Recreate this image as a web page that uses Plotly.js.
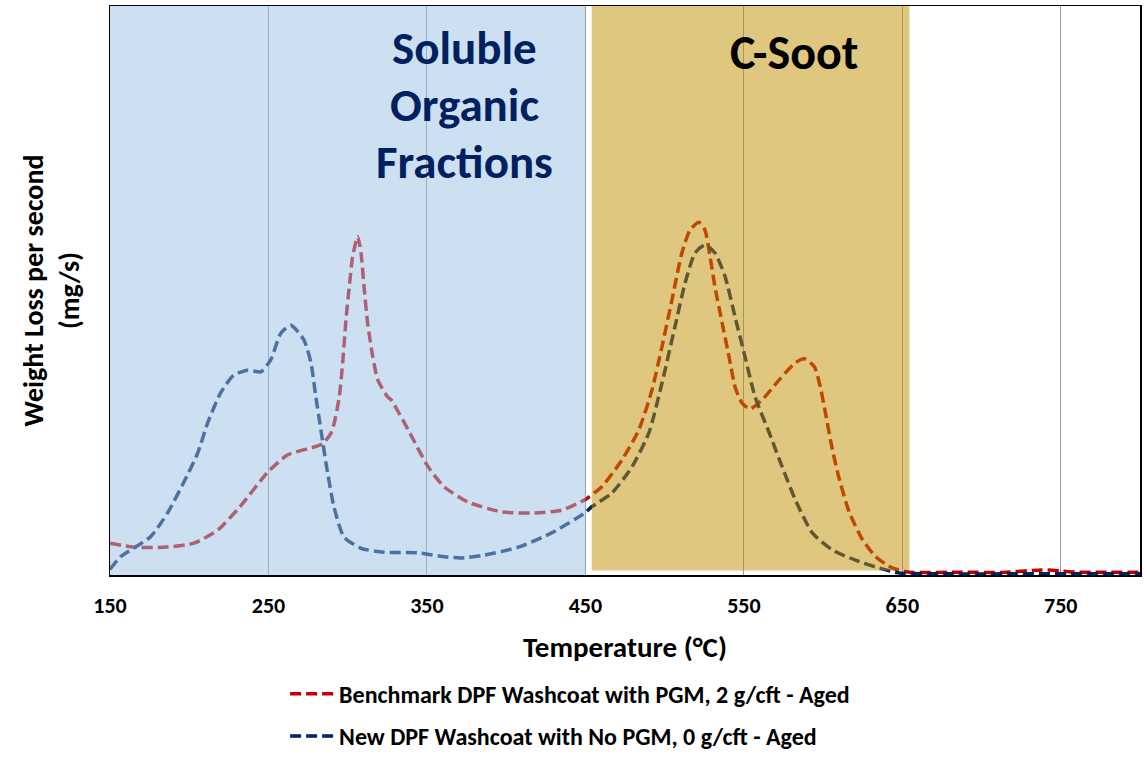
<!DOCTYPE html>
<html>
<head>
<meta charset="utf-8">
<script src="https://cdn.plot.ly/plotly-3.0.1.min.js"></script>
<style>html,body{margin:0;padding:0;background:#fff;}#chart{width:1145px;height:757px;}</style>
</head>
<body>
<div id="chart"></div>
<script>
// Temperature (°C) and weight loss (arbitrary mg/s scale, 0-100)
const benchmarkTemp = [150,165,186,203,218,232,249,262,279,284.2,289.4,291.5,294.7,296.8,298.9,301,303.1,306.3,308.4,310.5,312.6,315.8,319,325.2,327.4,338.2,350.8,360.9,376.1,397,417.9,435,449.6,452.1,460.3,473,483.7,492,498.3,504.6,510.9,516,521.7,525.5,528.7,531.8,536.3,540.7,544.5,548.9,554,561.6,572.3,582.5,588.2,594.5,598.3,601.5,605.9,610.4,616.7,624.9,633.2,643.9,654.6,688,713,738,750.5,760,776,800];
const benchmarkLoss = [5.6,4.9,4.9,5.6,7.9,12.0,17.9,21.1,22.5,23.1,24.9,26.7,31.3,37.2,44.8,50.7,55.9,59.5,56.6,50.1,44.2,38.4,34.3,31.3,30.8,25.5,19.0,15.5,12.8,11.1,10.9,11.4,13.2,13.7,15.5,20.2,25.5,32.5,40.1,48.3,56.6,60.6,62.0,60.6,55.9,50.6,44.3,38.3,33.0,30.2,29.2,30.8,34.3,37.3,38.0,36.6,33.0,28.5,22.0,16.7,10.9,6.2,3.2,1.2,0.5,0.5,0.45,0.9,0.7,0.5,0.5,0.5];

const newTemp = [150,156.6,175.5,186.3,196.4,205.3,211.6,219.8,228,236.9,245.1,251.4,257.8,264.1,272.4,276.8,279.9,283.1,286.3,291.3,297.6,308.4,323,344.5,361,371.7,386.3,407.8,428.7,449.6,454.1,466.7,479.4,490.1,498.3,506.5,512.9,519.2,525.5,531.8,538.2,544.5,550.8,557.1,566,574.2,582.5,593.2,605.9,620.5,635.6,648.3,680,720,760,800];
const newLoss = [1.0,3.2,6.7,10.9,16.2,21.4,26.7,32.0,35.1,36.0,35.7,37.8,42.5,43.9,41.3,37.3,31.3,25.5,19.7,12.0,6.7,4.7,4.0,3.9,3.2,3.0,3.5,4.9,7.4,10.9,12.0,14.4,19.0,25.0,33.7,43.6,51.3,56.6,58.0,56.6,52.4,45.3,38.3,31.3,25.0,19.0,13.2,7.4,4.4,2.6,1.2,0.35,0.2,0.2,0.2,0.2];

const tickValues = [150,250,350,450,550,650,750];
const seriesNames = ["Benchmark DPF Washcoat with PGM, 2 g/cft - Aged", "New DPF Washcoat with No PGM, 0 g/cft - Aged"];
const regionSOF = [150, 450];
const regionSoot = [454, 654.5];
const sofLabel = ["Soluble", "Organic", "Fractions"];
const sootLabel = "C-Soot";

const FONT = "Carlito, 'Open Sans', sans-serif";

const traces = [
  {x: benchmarkTemp, y: benchmarkLoss, type: 'scatter', mode: 'lines', name: seriesNames[0],
   legendgroup: 'a',
   line: {color: '#c00000', width: 3.5, dash: '11px,5px', shape: 'spline', smoothing: 0.6}},
  {x: newTemp, y: newLoss, type: 'scatter', mode: 'lines', name: seriesNames[1],
   legendgroup: 'b',
   line: {color: '#002060', width: 3.5, dash: '11px,5px', shape: 'spline', smoothing: 0.6}}
];

const sofY = [0.926, 0.826, 0.726];
const annotations = sofLabel.map((t, i) => ({
  xref: 'x', yref: 'paper', x: 374, y: sofY[i], xanchor: 'center', yanchor: 'middle',
  text: t, showarrow: false, font: {size: 47, weight: 'bold', color: '#002060', family: FONT}
}));
annotations.push({xref: 'x', yref: 'paper', x: 581.7, y: 0.919, xanchor: 'center', yanchor: 'middle',
  text: sootLabel, showarrow: false, font: {size: 48, weight: 'bold', color: '#000', family: FONT}});

const layout = {
  width: 1145, height: 757,
  margin: {l: 110, r: 5, t: 6, b: 182, autoexpand: false},
  paper_bgcolor: '#ffffff', plot_bgcolor: '#ffffff',
  font: {family: FONT, color: '#000'},
  showlegend: true,
  legend: {x: 0.17, xanchor: 'left', y: -0.17, yanchor: 'top', orientation: 'v',
           itemwidth: 44, tracegroupgap: 8,
           font: {size: 24, weight: 'bold', family: FONT}, bgcolor: 'rgba(0,0,0,0)'},
  xaxis: {range: [150, 800], tickvals: tickValues, ticktext: tickValues.map(String),
          showgrid: true, gridcolor: '#9a9a9a', gridwidth: 1,
          showline: true, mirror: true, linecolor: '#000', linewidth: 1.5,
          zeroline: false, ticks: 'outside', ticklen: 10, tickcolor: 'rgba(0,0,0,0)',
          tickfont: {size: 22, weight: 'bold', family: FONT},
          title: {text: 'Temperature (°C)', font: {size: 29, weight: 'bold', family: FONT}, standoff: 19}},
  yaxis: {range: [0, 100], showticklabels: false, showgrid: false, zeroline: false,
          showline: true, mirror: true, linecolor: '#000', linewidth: 1.5, ticks: '',
          title: {text: 'Weight Loss per second<br>(mg/s)', font: {size: 28, weight: 'bold', family: FONT}, standoff: 20}},
  shapes: [
    {type: 'rect', xref: 'x', yref: 'paper', x0: regionSOF[0], x1: regionSOF[1], y0: 0, y1: 1,
     fillcolor: 'rgba(155,194,230,0.5)', line: {width: 0}, layer: 'above'},
    {type: 'rect', xref: 'x', yref: 'paper', x0: regionSoot[0], x1: regionSoot[1], y0: 0.008, y1: 1,
     fillcolor: 'rgba(191,144,0,0.5)', line: {width: 0}, layer: 'above'}
  ],
  annotations: annotations
};

Plotly.newPlot('chart', traces, layout, {displayModeBar: false, staticPlot: true});
</script>
</body>
</html>
